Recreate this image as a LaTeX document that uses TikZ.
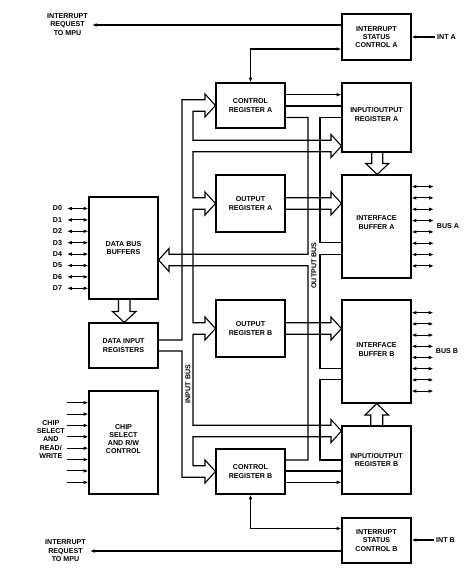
\documentclass[tikz,border=0pt]{standalone}
\usepackage{fontspec}
\setmainfont{Liberation Sans}
\usetikzlibrary{arrows.meta}
\newcommand\diagfont{\fontsize{7.1pt}{8.2pt}\selectfont\bfseries}
\begin{document}
\begin{tikzpicture}[x=1pt,y=-1pt,
  >={Latex[length=4.8pt,width=3.6pt]},
  blk/.style={draw,line width=1.1pt,minimum width=69pt,inner sep=1pt,align=center,font=\diagfont},
  lbl/.style={inner sep=0pt,align=center,font=\diagfont},
  wire/.style={line width=1.1pt}]
\fill[white] (0,0) rectangle (474,575);
\useasboundingbox (0,0) rectangle (474,575);

% blocks
\node[blk,minimum height=46pt] (iscA) at (376.5,37) {INTERRUPT\\STATUS\\CONTROL A};
\node[blk,minimum height=45pt] (crA) at (250.5,105.5) {CONTROL\\REGISTER A};
\node[blk,minimum height=69pt,label={[lbl,yshift=3pt]center:{INPUT/OUTPUT\\REGISTER A}}] (iorA) at (376.5,117.5) {};
\node[blk,minimum height=57pt] (orA) at (250.5,203.5) {OUTPUT\\REGISTER A};
\node[blk,minimum height=103pt,label={[lbl,yshift=4pt]center:{INTERFACE\\BUFFER A}}] (ibA) at (376.5,226.5) {};
\node[blk,minimum height=102pt] (dbb) at (123.5,248) {DATA BUS\\BUFFERS};
\node[blk,minimum height=45pt] (dir) at (123.5,345.5) {DATA INPUT\\REGISTERS};
\node[blk,minimum height=57pt] (orB) at (250.5,328.5) {OUTPUT\\REGISTER B};
\node[blk,minimum height=103pt,label={[lbl,yshift=2pt]center:{INTERFACE\\BUFFER B}}] (ibB) at (376.5,351.5) {};
\node[blk,minimum height=103pt,label={[lbl,yshift=3.5pt]center:{CHIP\\SELECT\\AND R/W\\CONTROL}}] (csc) at (123.5,442.5) {};
\node[blk,minimum height=68pt] (iorB) at (376.5,460) {INPUT/OUTPUT\\REGISTER B};
\node[blk,minimum height=45pt] (crB) at (250.5,471.5) {CONTROL\\REGISTER B};
\node[blk,minimum height=45pt] (iscB) at (376.5,540.5) {INTERRUPT\\STATUS\\CONTROL B};

% outside labels
\node[lbl] (irqAl) at (67.5,24.5) {INTERRUPT\\REQUEST\\TO MPU};
\node[lbl] (irqBl) at (65.5,550.7) {INTERRUPT\\REQUEST\\TO MPU};
\node[lbl] (csl) at (50.8,439.5) {CHIP\\SELECT\\AND\\READ/\\WRITE};
\node[lbl,anchor=west,inner xsep=2pt] (intA) at (435,37) {INT A};
\node[lbl,anchor=west,inner xsep=2.5pt] (intB) at (433.5,540) {INT B};
\node[lbl,rotate=90] (obus) at (314,265.5) {OUTPUT BUS};
\node[lbl,rotate=90] (ibus) at (188,384) {INPUT BUS};
\node[lbl] (busA) at (448,226) {BUS A};
\node[lbl] (busB) at (447,351) {BUS B};

% interrupt lines
\coordinate (irqA) at (92,25);
\coordinate (irqB) at (90,551);
\draw[wire,->] (iscA.west |- irqA) -- (irqA);
\draw[wire,->] (iscB.west |- irqB) -- (irqB);
\draw[wire,->] (intA.west) -- (iscA.east |- intA.west);
\draw[wire,->] (intB.west) -- (iscB.east |- intB.west);
\draw[wire,<->] (crA.north) |- (iscA.west |- 0,49);
\draw[wire,<->] (crB.south) |- (iscB.west |- 0,528.5);

% control register to I/O register
\draw[wire,->] (crA.east |- 0,94.7) -- (iorA.west |- 0,94.7);
\draw[wire] (crA.east |- 0,106) -- (iorA.west |- 0,106);
\draw[wire] (crB.east |- 0,471) -- (iorB.west |- 0,471);
\draw[wire,->] (crB.east |- 0,482.3) -- (iorB.west |- 0,482.3);

% input bus
\draw[wire] (dir.east |- 0,340) -- (182,340) -- (182,99.75) -- (205,99.75) -- (205,94)
  -- (crA.west) -- (205,117) -- (205,111.25) -- (193,111.25) -- (193,140.25)
  -- (331,140.25) -- (331,134.5) -- (iorA.west |- 0,146) -- (331,157.5) -- (331,151.75)
  -- (193,151.75) -- (193,197.75) -- (205,197.75) -- (205,192) -- (orA.west)
  -- (205,215) -- (205,209.25) -- (193,209.25) -- (193,322.75) -- (205,322.75)
  -- (205,317) -- (orB.west) -- (205,340) -- (205,334.25) -- (193,334.25)
  -- (193,425.25) -- (331,425.25) -- (331,419.5) -- (iorB.west |- 0,431)
  -- (331,442.5) -- (331,436.75) -- (193,436.75) -- (193,465.75) -- (205,465.75)
  -- (205,460) -- (crB.west) -- (205,483) -- (205,477.25) -- (182,477.25)
  -- (182,351) -- (dir.east |- 0,351);

% output bus
\draw[wire] (crA.east |- 0,117.5) -- (308,117.5) -- (308,254.25) -- (169,254.25)
  -- (169,248.5) -- (dbb.east |- 0,260) -- (169,271.5) -- (169,265.75)
  -- (308,265.75) -- (308,460) -- (crB.east |- 0,460);
\draw[wire] (iorA.west |- 0,117.5) -- (320,117.5) -- (320,242.75) -- (ibA.west |- 0,242.75);
\draw[wire] (ibA.west |- 0,254.25) -- (320,254.25) -- (320,368.25) -- (ibB.west |- 0,368.25);
\draw[wire] (ibB.west |- 0,379.5) -- (320,379.5) -- (320,460) -- (iorB.west |- 0,460);

% output registers to interface buffers
\draw[wire] (orA.east |- 0,197.75) -- (331,197.75) -- (331,192) -- (ibA.west |- 0,203.5)
  -- (331,215) -- (331,209.25) -- (orA.east |- 0,209.25);
\draw[wire] (orB.east |- 0,322.75) -- (331,322.75) -- (331,317) -- (ibB.west |- 0,328.5)
  -- (331,340) -- (331,334.25) -- (orB.east |- 0,334.25);

% vertical hollow arrows
\draw[wire] (iorA.south -| 371.75,0) -- (371.75,163.5) -- (365.75,163.5) -- (ibA.north -| 377.25,0)
  -- (388.75,163.5) -- (382.75,163.5) -- (iorA.south -| 382.75,0);
\draw[wire] (iorB.north -| 370.75,0) -- (370.75,415) -- (365,415) -- (ibB.south -| 376.75,0)
  -- (388.5,415) -- (382.75,415) -- (iorB.north -| 382.75,0);
\draw[wire] (dbb.south -| 118.5,0) -- (118.5,311.5) -- (112.5,311.5) -- (dir.north -| 124.25,0)
  -- (136,311.5) -- (130,311.5) -- (dbb.south -| 130,0);

% data lines, port lines, chip select lines
\foreach \i in {0,...,7} {
  \pgfmathsetmacro\yd{208.5+11.4*\i}
  \node[lbl] (dlab\i) at (57.5,\yd) {D\i};
  \coordinate (dend\i) at (67,\yd);
  \draw[wire,<->] (dend\i) -- (dbb.west |- dend\i);
  \pgfmathsetmacro\ya{186.6+11.33*\i}
  \coordinate (aend\i) at (434,\ya);
  \draw[wire,<->] (ibA.east |- aend\i) -- (aend\i);
  \pgfmathsetmacro\yb{312.7+11.2*\i}
  \coordinate (bend\i) at (433.5,\yb);
  \draw[wire,<->] (ibB.east |- bend\i) -- (bend\i);
  \pgfmathsetmacro\yc{402.7+11.37*\i}
  \coordinate (cend\i) at (67,\yc);
  \draw[wire,->] (cend\i) -- (csc.west |- cend\i);
}
\end{tikzpicture}
\end{document}
